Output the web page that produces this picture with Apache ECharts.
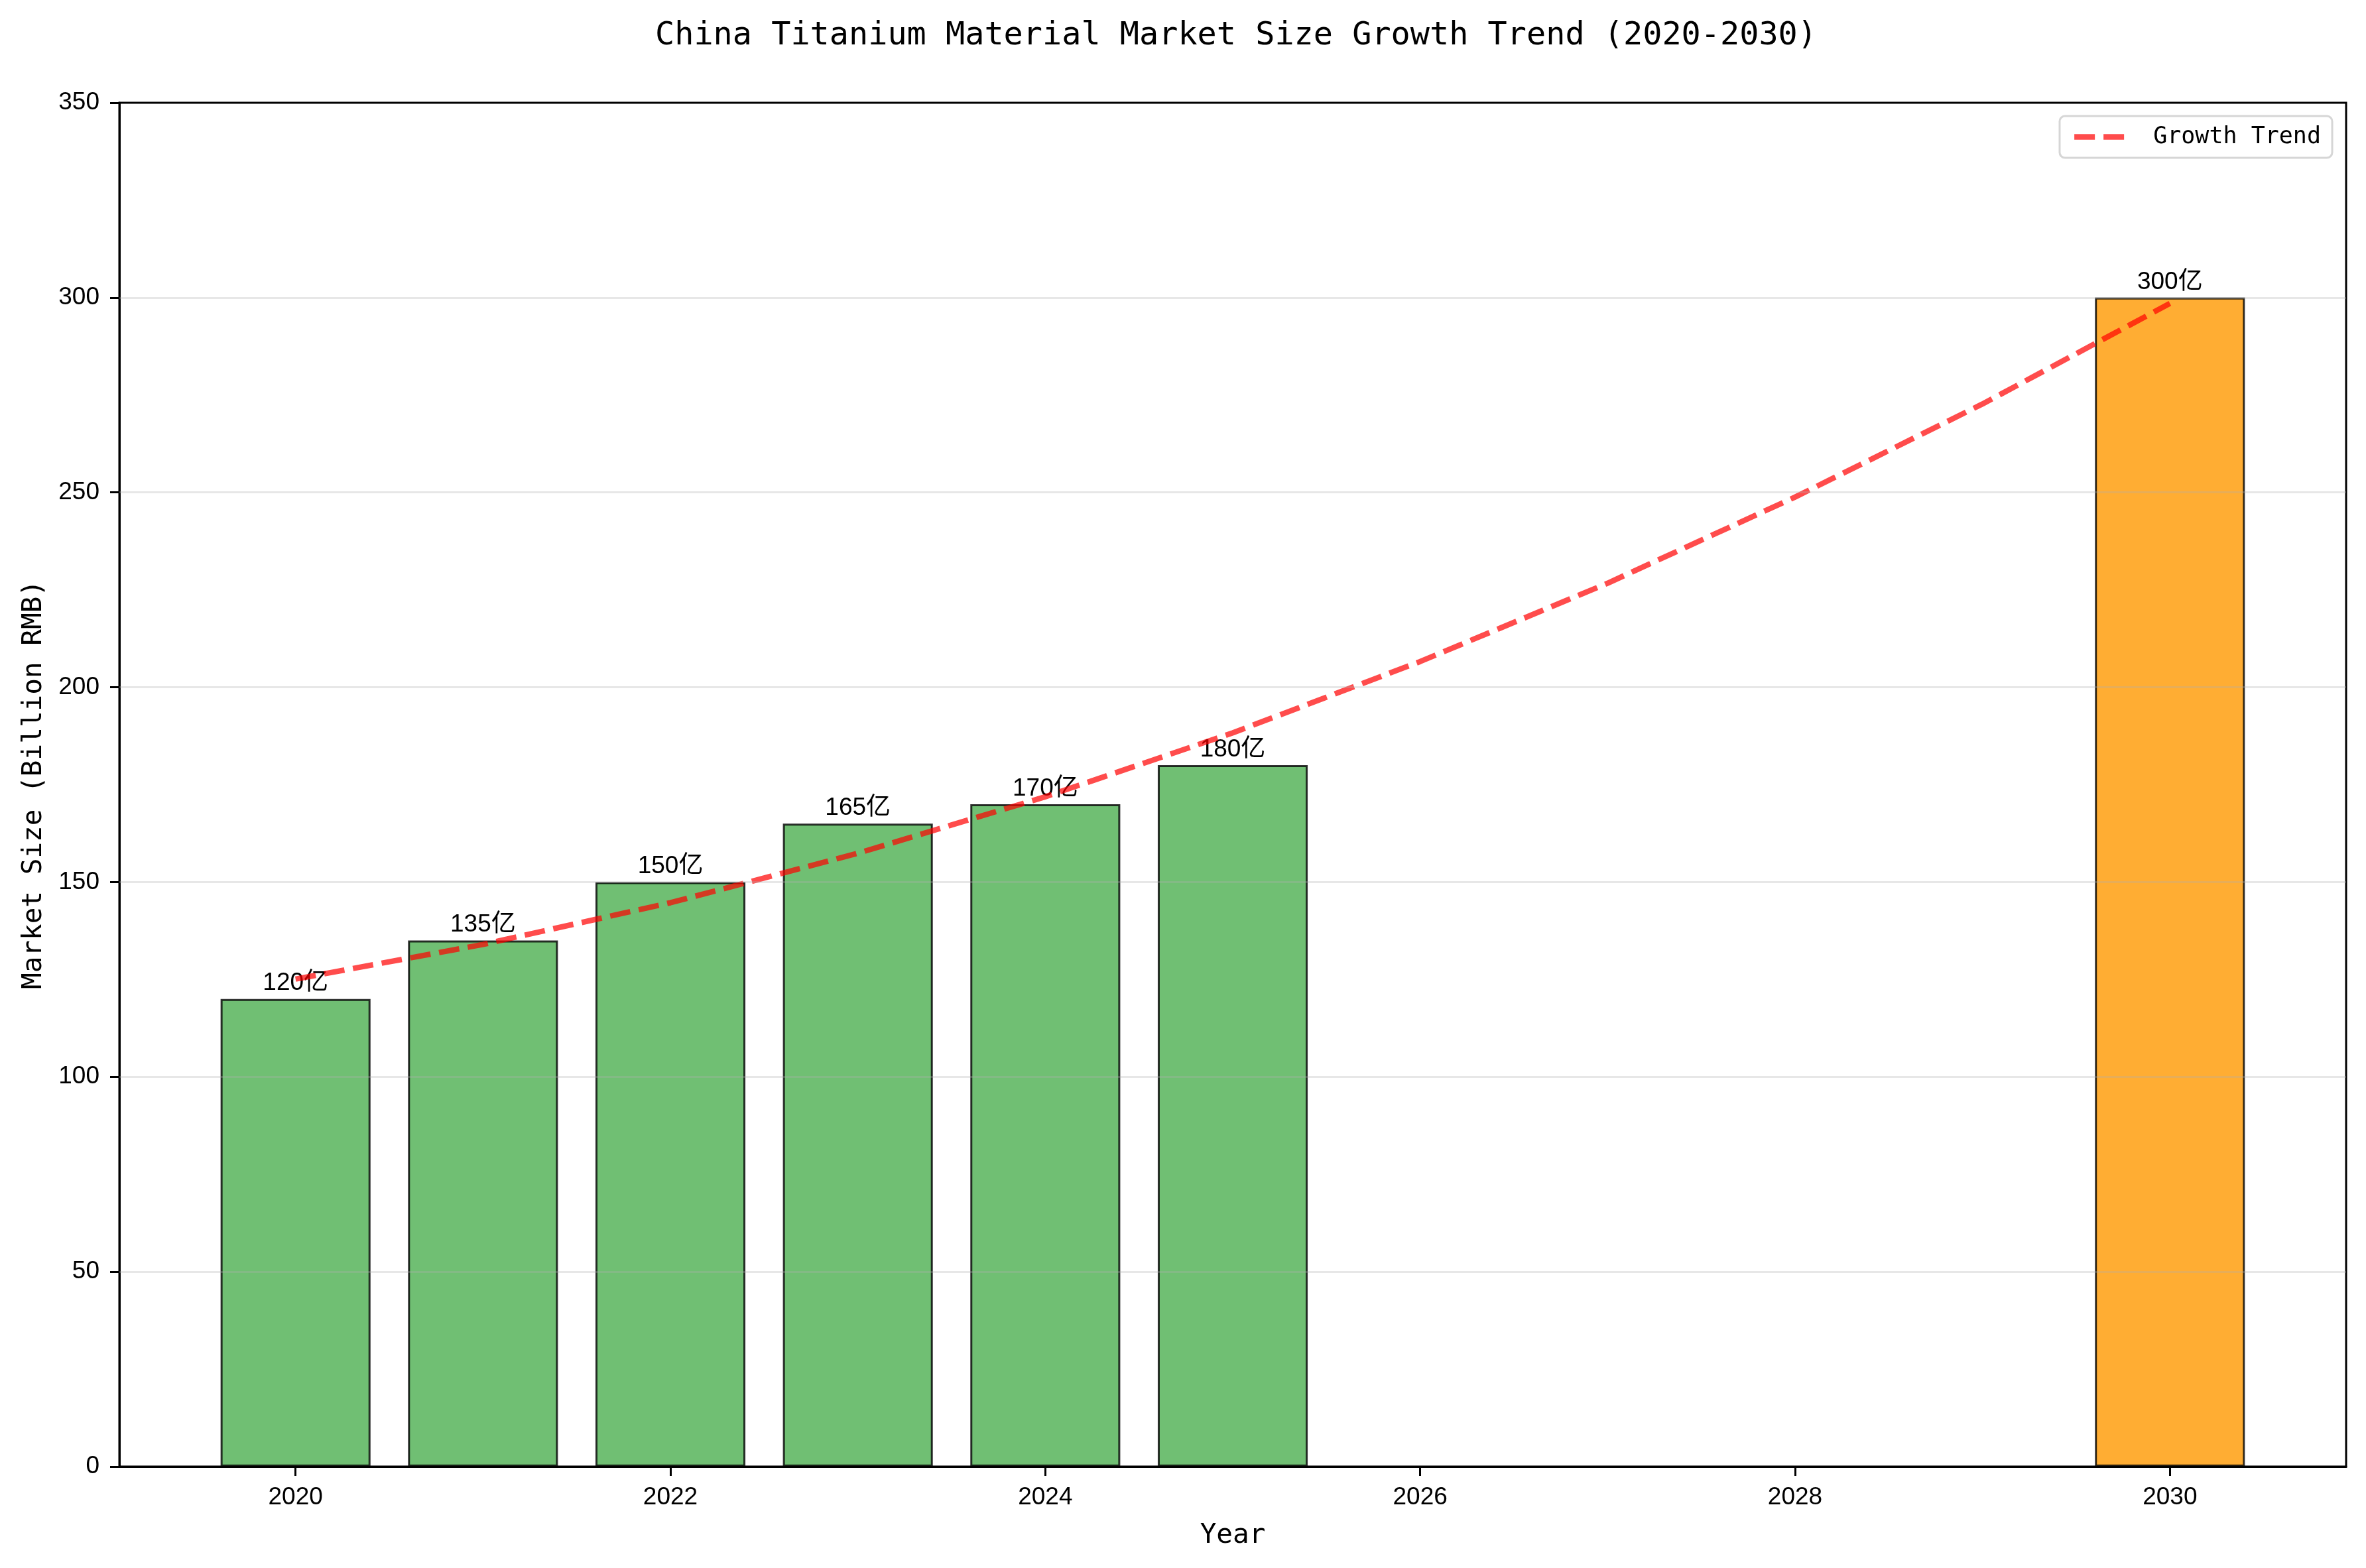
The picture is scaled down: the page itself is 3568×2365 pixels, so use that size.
<!DOCTYPE html>
<html><head><meta charset="utf-8">
<script src="https://cdn.jsdelivr.net/npm/echarts@6/dist/echarts.min.js"></script>
<style>html,body{margin:0;padding:0;background:#fff}#c{width:3568px;height:2365px}</style>
</head><body><div id="c"></div>
<script>
// ---- data ----
const years = [2020, 2021, 2022, 2023, 2024, 2025, 2030];
const marketSize = [120, 135, 150, 165, 170, 180, 300];
const barColors = ['rgba(76,175,80,0.8)', 'rgba(76,175,80,0.8)', 'rgba(76,175,80,0.8)',
                   'rgba(76,175,80,0.8)', 'rgba(76,175,80,0.8)', 'rgba(76,175,80,0.8)',
                   'rgba(255,152,0,0.8)'];
const trendYears = [2020, 2021, 2022, 2023, 2024, 2025, 2026, 2027, 2028, 2029, 2030];
const trendValues = [125.1, 134.0, 144.7, 157.4, 171.9, 188.3, 206.6, 226.7, 248.8, 272.7, 298.5];
const xTickLabels = [2020, 2022, 2024, 2026, 2028, 2030];
const yTickLabels = [0, 50, 100, 150, 200, 250, 300, 350];
const unit = '亿';

const MONO = "'DejaVu Sans Mono', 'Noto Sans CJK SC', monospace";
const SANS = "'Liberation Sans', 'Noto Sans CJK SC', sans-serif";

const chart = echarts.init(document.getElementById('c'), null, {renderer: 'canvas'});

const barData = years.map((y, i) => ({
  value: [y, marketSize[i]],
  itemStyle: {color: barColors[i]}
}));
const lineData = trendYears.map((y, i) => [y, trendValues[i]]);
// horizontal grid lines (drawn above the bars, as in the reference)
const gridLineData = yTickLabels.slice(1, -1).map(v => ({yAxis: v}));

const GRID = {left: 180, right: 30, top: 155, bottom: 153};
const plotCenterX = GRID.left + (3568 - GRID.left - GRID.right) / 2;
const TREND_COLOR = 'rgba(255,0,0,0.7)';

chart.setOption({
  backgroundColor: '#fff',
  animation: false,
  title: {
    text: 'China Titanium Material Market Size Growth Trend (2020-2030)',
    left: plotCenterX,
    textAlign: 'center',
    top: 25,
    textStyle: {fontFamily: MONO, fontSize: 48.5, fontWeight: 'normal', color: '#000'}
  },
  legend: {
    right: 51, top: 175,
    padding: [14, 17, 14, 18],
    backgroundColor: '#fff',
    borderColor: '#d6d6d6', borderWidth: 3, borderRadius: 8,
    itemWidth: 75, itemHeight: 20,
    itemStyle: {opacity: 0},
    lineStyle: {width: 8.3, type: [31, 13], color: TREND_COLOR, cap: 'butt', opacity: 1},
    textStyle: {fontFamily: MONO, fontSize: 35, color: '#000', padding: [0, 0, 0, 39]},
    data: ['Growth Trend']
  },
  grid: Object.assign({
    show: true, borderColor: '#000', borderWidth: 3, backgroundColor: 'transparent'
  }, GRID),
  xAxis: {
    type: 'value',
    min: 2019.06, max: 2030.94,
    name: 'Year', nameLocation: 'middle', nameGap: 84,
    nameTextStyle: {fontFamily: MONO, fontSize: 41, color: '#000'},
    axisLine: {show: true, lineStyle: {color: '#000', width: 3}},
    axisTick: {show: true, length: 14, lineStyle: {color: '#000', width: 3}, customValues: xTickLabels},
    axisLabel: {fontFamily: SANS, fontSize: 37, color: '#000', margin: 28, customValues: xTickLabels,
                formatter: v => String(v)},
    splitLine: {show: false}
  },
  yAxis: {
    type: 'value',
    min: yTickLabels[0], max: yTickLabels[yTickLabels.length - 1], interval: 50,
    name: 'Market Size (Billion RMB)', nameLocation: 'middle', nameGap: 108, nameRotate: 90,
    nameTextStyle: {fontFamily: MONO, fontSize: 41, color: '#000'},
    axisLine: {show: true, lineStyle: {color: '#000', width: 3}},
    axisTick: {show: true, length: 14, lineStyle: {color: '#000', width: 3}},
    axisLabel: {fontFamily: SANS, fontSize: 37, color: '#000', margin: 30},
    splitLine: {show: false}
  },
  series: [
    {
      type: 'bar',
      name: 'Market',
      data: barData,
      barWidth: '80%',
      itemStyle: {borderColor: 'rgba(0,0,0,0.8)', borderWidth: 3},
      label: {
        show: true, position: 'top', distance: 5,
        fontFamily: SANS, fontSize: 37, color: '#000',
        formatter: p => p.value[1] + unit
      },
      markLine: {
        silent: true,
        symbol: ['none', 'none'],
        label: {show: false},
        lineStyle: {color: 'rgba(176,176,176,0.3)', width: 3, type: 'solid'},
        emphasis: {disabled: true},
        data: gridLineData
      },
      z: 2
    },
    {
      type: 'line',
      name: 'Growth Trend',
      data: lineData,
      symbol: 'none',
      lineStyle: {color: TREND_COLOR, width: 8.3, type: [31, 13]},
      itemStyle: {color: TREND_COLOR},
      z: 3
    }
  ]
});
</script>
</body></html>
